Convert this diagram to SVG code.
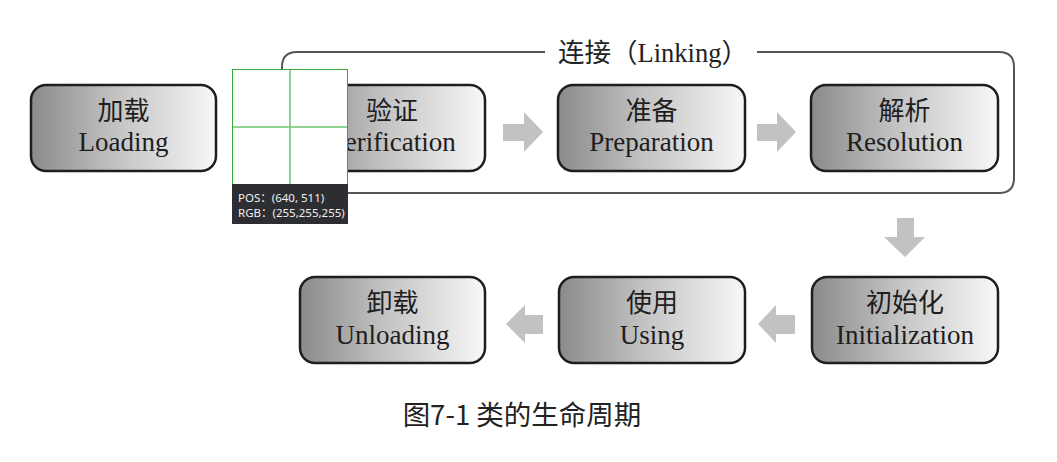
<svg xmlns="http://www.w3.org/2000/svg" width="1057" height="462" viewBox="0 0 1057 462">
  <defs>
    <linearGradient id="boxFill" x1="0" y1="0" x2="1" y2="0">
      <stop offset="0" stop-color="#8a8a8a"/>
      <stop offset="0.45" stop-color="#c2c2c2"/>
      <stop offset="1" stop-color="#f8f8f8"/>
    </linearGradient>
  </defs>
  <style>
    .box { fill: url(#boxFill); stroke: #1e1e1e; stroke-width: 2.5; }
    .cn { font-family: "Liberation Serif", "Noto Sans CJK SC", serif; font-size: 26px; fill: #1e1e1e; text-anchor: middle; }
    .en { font-family: "Liberation Serif", serif; font-size: 27px; fill: #1e1e1e; text-anchor: middle; }
    .arrow { fill: #c2c2c2; }
    .frame { fill: none; stroke: #555; stroke-width: 2; }
    .caption { font-family: "Noto Sans CJK SC", "Noto Sans", sans-serif; font-size: 27.5px; fill: #222; text-anchor: middle; }
    .tip { font-family: "Noto Sans", "Noto Sans CJK SC", sans-serif; font-size: 11.5px; fill: #f0f0f0; }
  </style>
  <rect width="1057" height="462" fill="#ffffff"/>

  <!-- linking phase frame with its title -->
  <g id="linking">
    <path class="frame" d="M545,52 H297 Q282,52 282,67 V178 Q282,193 297,193 H999 Q1014,193 1014,178 V67 Q1014,52 999,52 H757"/>
    <text x="653" y="62" font-family="Liberation Serif, Noto Sans CJK SC, serif" font-size="26.5" fill="#222" text-anchor="middle">连接（Linking）</text>
  </g>

  <g id="loading">
    <rect class="box" x="31" y="85" width="185" height="86" rx="15"/>
    <text class="cn" x="123.5" y="120">加载</text>
    <text class="en" x="123.5" y="151">Loading</text>
  </g>
  <g id="verification">
    <rect class="box" x="299" y="85" width="186" height="86" rx="15"/>
    <text class="cn" x="392" y="120">验证</text>
    <text class="en" x="392" y="151">Verification</text>
  </g>
  <g id="preparation">
    <rect class="box" x="558" y="85" width="187" height="86" rx="15"/>
    <text class="cn" x="651.5" y="120">准备</text>
    <text class="en" x="651.5" y="151">Preparation</text>
  </g>
  <g id="resolution">
    <rect class="box" x="811" y="85" width="187" height="86" rx="15"/>
    <text class="cn" x="904.5" y="120">解析</text>
    <text class="en" x="904.5" y="151">Resolution</text>
  </g>
  <g id="initialization">
    <rect class="box" x="812" y="277" width="186" height="86" rx="15"/>
    <text class="cn" x="905" y="312">初始化</text>
    <text class="en" x="905" y="344">Initialization</text>
  </g>
  <g id="using">
    <rect class="box" x="559" y="277" width="186" height="86" rx="15"/>
    <text class="cn" x="652" y="312">使用</text>
    <text class="en" x="652" y="344">Using</text>
  </g>
  <g id="unloading">
    <rect class="box" x="300" y="277" width="185" height="86" rx="15"/>
    <text class="cn" x="392.5" y="312">卸载</text>
    <text class="en" x="392.5" y="344">Unloading</text>
  </g>

  <!-- block arrows between stages -->
  <g id="connectors">
    <polygon class="arrow" points="503,124 524,124 524,112 543,132 524,152 524,141 503,141"/>
    <polygon class="arrow" points="757,124 777,124 777,112 796,132 777,152 777,141 757,141"/>
    <polygon class="arrow" points="897,218 914,218 914,237 925,237 905,257 884,237 897,237"/>
    <polygon class="arrow" points="795,315 776,315 776,305 758,324 776,343 776,334 795,334"/>
    <polygon class="arrow" points="543,315 525,315 525,305 506,324 525,343 525,334 543,334"/>
  </g>

  <text class="caption" x="522" y="425">图7-1 类的生命周期</text>

  <!-- colour picker tooltip drawn over the chart -->
  <g id="picker">
    <rect x="232" y="69" width="116" height="115" fill="#ffffff"/>
    <line x1="290" y1="69" x2="290" y2="184" stroke="#6cc46c" stroke-width="1.5"/>
    <line x1="232" y1="127" x2="348" y2="127" stroke="#6cc46c" stroke-width="1.5"/>
    <rect x="232.5" y="69.5" width="115" height="115" fill="none" stroke="#3aa63a" stroke-width="1"/>
    <rect x="232" y="184" width="116" height="40" fill="#2c2e32"/>
    <text class="tip" x="238" y="202">POS：(640, 511)</text>
    <text class="tip" x="238" y="217">RGB：(255,255,255)</text>
  </g>
</svg>
